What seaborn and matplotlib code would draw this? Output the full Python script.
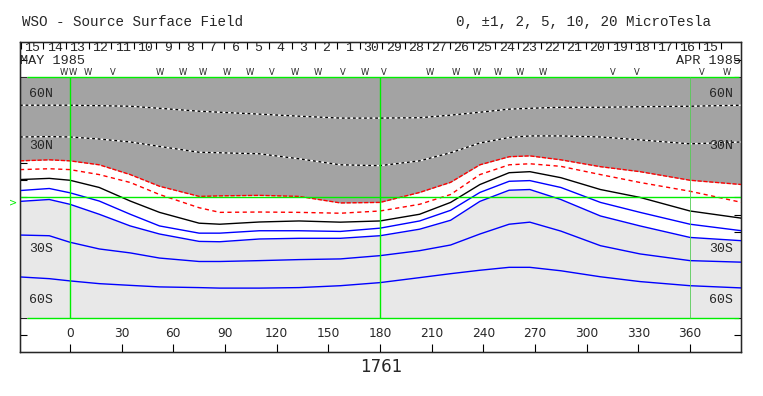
import numpy as np
import pandas as pd
import matplotlib
matplotlib.use("Agg")
import matplotlib.pyplot as plt
import seaborn as sns
from matplotlib.transforms import blended_transform_factory

# ---------------- data ----------------
lon = [-29, -12, 0, 17, 35, 52, 75, 87, 110, 133, 157, 180, 203, 221, 238, 255, 267, 285, 308, 331, 360, 390]

pos_hi = [53.7, 53.7, 53.7, 53.4, 53.1, 51.9, 50.2, 49.6, 48.5, 47.3, 46.2, 46.2, 46.4, 47.9, 49.6, 51.4, 51.9, 52.5, 52.5, 52.8, 53.1, 53.7]
pos_mid = [35.2, 35.4, 35.2, 34.0, 32.3, 29.7, 26.3, 26.0, 25.4, 22.5, 19.0, 18.5, 21.3, 26.0, 31.7, 34.9, 35.8, 35.8, 35.2, 33.5, 31.2, 32.3]
pos_2 = [21.3, 21.9, 21.3, 19.0, 13.3, 6.5, 0.6, 0.9, 1.2, 0.6, -3.2, -2.9, 2.9, 8.8, 19.0, 23.7, 24.2, 21.9, 17.9, 15.0, 10.0, 7.5]
pos_1 = [16.2, 16.7, 16.2, 13.3, 8.7, 1.7, -6.0, -8.7, -8.5, -8.7, -9.2, -7.9, -4.0, 1.7, 13.3, 19.0, 19.6, 18.1, 13.3, 8.7, 3.6, -2.9]
neutral = [10.4, 11.1, 10.0, 5.8, -2.1, -8.7, -15.0, -15.6, -14.3, -13.7, -14.4, -13.7, -9.8, -2.9, 7.5, 14.4, 15.0, 11.5, 4.6, 0.0, -7.9, -12.1]
neg_1 = [4.0, 5.2, 2.7, -2.1, -9.8, -16.6, -20.8, -20.8, -19.4, -19.4, -19.8, -17.9, -13.7, -7.5, 2.9, 9.4, 9.8, 5.8, -2.9, -8.7, -15.6, -19.4]
neg_2 = [-2.3, -1.2, -4.0, -9.8, -16.6, -21.3, -25.6, -25.8, -24.2, -23.8, -23.8, -22.3, -18.5, -13.3, -2.3, 4.2, 4.6, -1.2, -10.8, -16.6, -23.3, -25.2]
neg_5 = [-21.9, -22.3, -26.1, -30.0, -32.3, -35.3, -37.3, -37.3, -36.8, -36.2, -35.8, -33.9, -31.0, -27.7, -21.3, -15.6, -14.4, -19.6, -28.1, -32.9, -36.8, -37.7]
neg_10 = [-46.3, -47.3, -48.6, -50.2, -51.2, -52.1, -52.5, -52.8, -52.8, -52.5, -51.4, -49.6, -46.7, -44.4, -42.4, -40.7, -40.7, -42.7, -46.2, -49.0, -51.4, -52.7]

xtick_vals = [0, 30, 60, 90, 120, 150, 180, 210, 240, 270, 300, 330, 360]
lat_ticks = list(range(-80, 81, 10))
lat_label_vals = [60, 30, -30, -60]
lat_label_txt = ["60N", "30N", "30S", "60S"]

day_labels = ["15", "14", "13", "12", "11", "10", "9", "8", "7", "6", "5", "4", "3", "2", "1",
              "30", "29", "28", "27", "26", "25", "24", "23", "22", "21", "20", "19", "18", "17", "16", "15"]
day_start_lon = -28.5
day_step = 13.12

mark_lon = [-3.8, 1.9, 10.5, 25.0, 52.3, 65.6, 77.2, 91.2, 104.5, 117.3, 130.6, 144.0, 158.5, 171.3,
            182.3, 209.0, 224.1, 236.3, 248.5, 261.3, 274.6, 315.3, 329.2, 367.0, 381.5]
mark_chr = ["W", "W", "W", "V", "W", "W", "W", "W", "W", "V", "W", "W", "V", "W",
            "V", "W", "W", "W", "W", "W", "W", "V", "V", "V", "W"]

rotation = "1761"
title_left = "WSO - Source Surface Field"
title_right = "0, \u00b11, 2, 5, 10, 20 MicroTesla"

# ---------------- figure ----------------
sns.set_style("white")
plt.rcParams["font.family"] = ["DejaVu Sans"]
mono = "Liberation Mono"

W, H = 763, 396
fig = plt.figure(figsize=(W / 100, H / 100), dpi=100)
fig.patch.set_facecolor("white")
ax = fig.add_axes([20 / W, 44 / H, 721 / W, 310 / H])
ax.set_facecolor("white")
ax.set_xlim(-29.0, 389.6)
ax.set_ylim(-90, 90.5)

lon_a = np.array(lon)
ax.fill_between(lon_a, pos_2, 70, color="#a3a3a3", lw=0, zorder=1)
ax.fill_between(lon_a, -70, neg_2, color="#e8e8e8", lw=0, zorder=1)

df = pd.DataFrame({"lon": lon, "pos_hi": pos_hi, "pos_mid": pos_mid, "pos_2": pos_2, "pos_1": pos_1,
                   "neutral": neutral, "neg_1": neg_1, "neg_2": neg_2, "neg_5": neg_5, "neg_10": neg_10})

for col in ["pos_hi", "pos_mid"]:
    sns.lineplot(data=df, x="lon", y=col, ax=ax, color="white", lw=1.0, sort=False, estimator=None, zorder=2)
    sns.lineplot(data=df, x="lon", y=col, ax=ax, color="black", lw=1.0, sort=False, estimator=None,
                 linestyle=(0, (2, 2)), zorder=3)
sns.lineplot(data=df, x="lon", y="pos_2", ax=ax, color="red", lw=1.0, sort=False, estimator=None,
             linestyle=(0, (3, 1.2)), zorder=3)
sns.lineplot(data=df, x="lon", y="pos_1", ax=ax, color="red", lw=1.0, sort=False, estimator=None,
             linestyle=(0, (3, 2.5)), zorder=3)
sns.lineplot(data=df, x="lon", y="neutral", ax=ax, color="black", lw=1.0, sort=False, estimator=None, zorder=3)
for col in ["neg_1", "neg_2", "neg_5", "neg_10"]:
    sns.lineplot(data=df, x="lon", y=col, ax=ax, color="#0000ff", lw=1.0, sort=False, estimator=None, zorder=3)

# green reference lines
green = "#00ee00"
ax.hlines([70, -70], -25, 388.5, color=green, lw=1.0, zorder=4)
ax.hlines([0], -29, 389.6, color=green, lw=1.0, zorder=4)
ax.vlines([0, 180], -70, 70, color=green, lw=1.0, zorder=4)
ax.vlines([360], -70, 70, color="#55cc55", lw=0.6, zorder=4)
ax.text(-0.004, -3, ">", transform=blended_transform_factory(ax.transAxes, ax.transData),
        color=green, fontsize=7, ha="right", va="center", clip_on=False)

# axes, ticks
for s in ax.spines.values():
    s.set_color("black")
    s.set_linewidth(1.0)
    s.set_visible(True)
ax.set_ylabel("")
ax.set_yticks(lat_ticks)
ax.set_yticklabels([])
ax.tick_params(axis="y", direction="in", length=5, width=0.8, left=True, right=True,
               labelleft=False, labelright=False, color="black")
ax.set_xticks(xtick_vals)
ax.set_xticklabels([str(v) for v in xtick_vals], fontsize=8.8)
ax.tick_params(axis="x", direction="in", length=6, width=0.8, bottom=True, top=False,
               pad=-18, color="black")
ax.set_xlabel(rotation, fontsize=12)
ax.xaxis.set_label_coords(0.5007, -0.02)

tr = blended_transform_factory(ax.transAxes, ax.transData)
for v, t in zip(lat_label_vals, lat_label_txt):
    ax.text(9 / 721, v, t, transform=tr, ha="left", va="center", fontsize=9.5, family=mono, zorder=5)
    ax.text(713 / 721, v, t, transform=tr, ha="right", va="center", fontsize=9.5, family=mono, zorder=5)

# top strip: day boundaries, day numbers
ax2 = ax.twiny()
ax2.set_xlim(ax.get_xlim())
bounds = [day_start_lon + day_step * k for k in range(len(day_labels) + 1)]
ax2.set_xticks(bounds)
ax2.set_xticklabels([])
ax2.tick_params(axis="x", direction="in", length=5, width=0.8, top=True, bottom=False, color="black")
for k, d in enumerate(day_labels):
    ax.text(day_start_lon + day_step * (k + 0.5), 87.2, d, ha="center", va="center",
            fontsize=9.5, family=mono, zorder=5)
ax.text(0.0, 79.5, "MAY 1985", transform=tr, ha="left", va="center", fontsize=9.7, family=mono)
ax.text(1.0, 79.5, "APR 1985", transform=tr, ha="right", va="center", fontsize=9.7, family=mono)
for lo, ch in zip(mark_lon, mark_chr):
    ax.text(lo, 72.6, ch, ha="center", va="center", fontsize=6, family="DejaVu Sans", zorder=5)

fig.text(22 / W, 1 - 22 / H, title_left, ha="left", va="center", fontsize=10.3, family=mono)
fig.text(711 / W, 1 - 22 / H, title_right, ha="right", va="center", fontsize=10.3, family=mono)

fig.savefig("out.png", dpi=100, facecolor="white")
